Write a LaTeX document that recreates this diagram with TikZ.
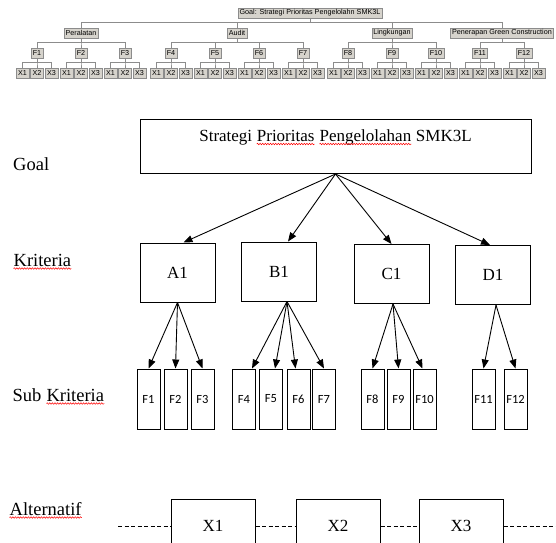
\documentclass[tikz,border=0pt]{standalone}
\usepackage{fontspec}
\setmainfont{Liberation Serif}
\newfontfamily\hurufkecil{Liberation Sans}
\newfontfamily\hurufsub{Carlito}
\usetikzlibrary{trees,arrows.meta,decorations.pathmorphing}
\definecolor{abuisi}{RGB}{214,211,204}
\definecolor{abugaris}{RGB}{140,140,140}
% garis merah bergelombang di bawah kata
\newcommand{\ejaan}[1]{\tikz[baseline=(kata.base)]{\node[shape=rectangle, draw=none, fill=none,
    inner sep=0pt, anchor=center, minimum width=0pt, minimum height=0pt,
    text height=, text depth=] (kata) {#1};
  \draw[red, line width=0.5pt, decorate, decoration={snake, amplitude=0.8pt, segment length=2.6pt}]
    ([yshift=-2.5pt]kata.base west) -- ([yshift=-2.5pt]kata.base east);}}

\begin{document}
\begin{tikzpicture}[x=1pt, y=-1pt,
    pohon/.style = {shape=rectangle, draw=abugaris, fill=abuisi,
      font=\hurufkecil\fontsize{7.2}{8}\selectfont, inner sep=1.6pt, minimum height=10pt},
    every child node/.style = {pohon},
    level distance=20pt,
    level 1/.style = {sibling distance=140pt},
    level 2/.style = {sibling distance=44pt},
    level 3/.style = {sibling distance=14.5pt, nodes={minimum width=13pt}},
    edge from parent/.style = {draw=abugaris, line width=0.6pt},
    edge from parent path = {(\tikzparentnode.south) -- +(0pt,-4.5pt) -| (\tikzchildnode.north)},
    kotak/.style = {shape=rectangle, draw, line width=1pt, font=\fontsize{17}{20}\selectfont},
    subkotak/.style = {shape=rectangle, draw, line width=1pt, inner sep=0pt,
      minimum width=23pt, minimum height=60pt, font=\hurufsub\fontsize{12.5}{14}\selectfont},
    tingkat/.style = {anchor=base west, inner sep=0pt, font=\fontsize{18.5}{22}\selectfont},
    panah/.style = {-{Triangle[length=9pt,width=7pt]}, line width=0.9pt},
    putus/.style = {dash pattern=on 4pt off 2.5pt, line width=0.7pt}]
  \useasboundingbox (0,0) rectangle (556,542);
  \clip (0,0) rectangle (556,542);

  % hirarki kecil di atas
  \node[pohon] (tGoal) at (310,13) {Goal: Strategi Prioritas Pengelolahn SMK3L}
    child[xshift=-19pt] { node (tPer) {Peralatan}
      child { node (tF1) {F1} child foreach \i in {1,2,3} { node (tF1x\i) {X\i} } }
      child { node (tF2) {F2} child foreach \i in {1,2,3} { node (tF2x\i) {X\i} } }
      child { node (tF3) {F3} child foreach \i in {1,2,3} { node (tF3x\i) {X\i} } } }
    child[xshift=-3pt] { node (tAud) {Audit}
      child { node (tF4) {F4} child foreach \i in {1,2,3} { node (tF4x\i) {X\i} } }
      child { node (tF5) {F5} child foreach \i in {1,2,3} { node (tF5x\i) {X\i} } }
      child { node (tF6) {F6} child foreach \i in {1,2,3} { node (tF6x\i) {X\i} } }
      child { node (tF7) {F7} child foreach \i in {1,2,3} { node (tF7x\i) {X\i} } } }
    child[xshift=12pt] { node (tLing) {Lingkungan}
      child { node (tF8) {F8} child foreach \i in {1,2,3} { node (tF8x\i) {X\i} } }
      child { node (tF9) {F9} child foreach \i in {1,2,3} { node (tF9x\i) {X\i} } }
      child { node (tF10) {F10} child foreach \i in {1,2,3} { node (tF10x\i) {X\i} } } }
    child[xshift=-18pt] { node (tGC) {Penerapan Green Construction}
      child { node (tF11) {F11} child foreach \i in {1,2,3} { node (tF11x\i) {X\i} } }
      child { node (tF12) {F12} child foreach \i in {1,2,3} { node (tF12x\i) {X\i} } } };

  % label tingkat
  \node[tingkat] (lGoal) at (13,170) {Goal};
  \node[tingkat] (lKriteria) at (13,266) {\ejaan{Kriteria}};
  \node[tingkat] (lSub) at (12.5,401) {Sub \ejaan{Kriteria}};
  \node[tingkat] (lAlt) at (9,515) {\ejaan{Alternatif}};

  % goal dan kriteria
  \node[kotak, anchor=north, minimum width=391pt, inner ysep=0pt,
    text height=22pt, text depth=32pt] (goal) at (335.5,119)
    {Strategi \ejaan{Prioritas} \ejaan{Pengelolahan} SMK3L};
  \node[kotak, minimum width=75pt, minimum height=59pt] (A1) at (177.5,272.5) {A1};
  \node[kotak, minimum width=75pt, minimum height=59pt] (B1) at (279,271.5) {B1};
  \node[kotak, minimum width=75pt, minimum height=59pt] (C1) at (391.5,274) {C1};
  \node[kotak, minimum width=75pt, minimum height=59pt] (D1) at (493,275) {D1};
  \draw[panah] (goal.south) -- ([xshift=6pt]A1.north);
  \draw[panah] (goal.south) -- ([xshift=9pt]B1.north);
  \draw[panah] (goal.south) -- (C1.north);
  \draw[panah] (goal.south) -- ([xshift=-3pt]D1.north);

  % sub kriteria
  \node[subkotak] (F1) at (148.5,399) {F1};
  \node[subkotak] (F2) at (175.5,399) {F2};
  \node[subkotak] (F3) at (202.5,399) {F3};
  \node[subkotak] (F4) at (244,399) {F4};
  \node[subkotak] (F5) at (271,399) {F5};
  \node[subkotak] (F6) at (298.5,399) {F6};
  \node[subkotak] (F7) at (324,399) {F7};
  \node[subkotak] (F8) at (372.5,399) {F8};
  \node[subkotak] (F9) at (398.5,399) {F9};
  \node[subkotak] (F10) at (424.5,399) {F10};
  \node[subkotak] (F11) at (483.5,399) {F11};
  \node[subkotak] (F12) at (515.5,399) {F12};
  \draw[panah] (A1.south) -- (F1.north);
  \draw[panah] (A1.south) -- (F2.north);
  \draw[panah] (A1.south) -- (F3.north);
  \draw[panah] ([xshift=8pt]B1.south) -- ([xshift=8pt]F4.north);
  \draw[panah] ([xshift=8pt]B1.south) -- ([xshift=4pt]F5.north);
  \draw[panah] ([xshift=8pt]B1.south) -- ([xshift=-3pt]F6.north);
  \draw[panah] ([xshift=8pt]B1.south) -- (F7.north);
  \draw[panah] ([xshift=1.5pt]C1.south) -- (F8.north);
  \draw[panah] ([xshift=1.5pt]C1.south) -- (F9.north);
  \draw[panah] ([xshift=1.5pt]C1.south) -- ([xshift=-2pt]F10.north);
  \draw[panah] ([xshift=3pt]D1.south) -- (F11.north);
  \draw[panah] ([xshift=3pt]D1.south) -- (F12.north);

  % alternatif
  \node[kotak, minimum width=84pt, minimum height=54pt] (X1) at (213,526) {X1};
  \node[kotak, minimum width=84pt, minimum height=54pt] (X2) at (338,526) {X2};
  \node[kotak, minimum width=84pt, minimum height=54pt] (X3) at (461,526) {X3};
  \coordinate (kiri) at (118,526);
  \coordinate (kanan) at (556,526);
  \draw[putus] (kiri) -- (X1) (X1) -- (X2) (X2) -- (X3) (X3) -- (kanan);
\end{tikzpicture}
\end{document}
